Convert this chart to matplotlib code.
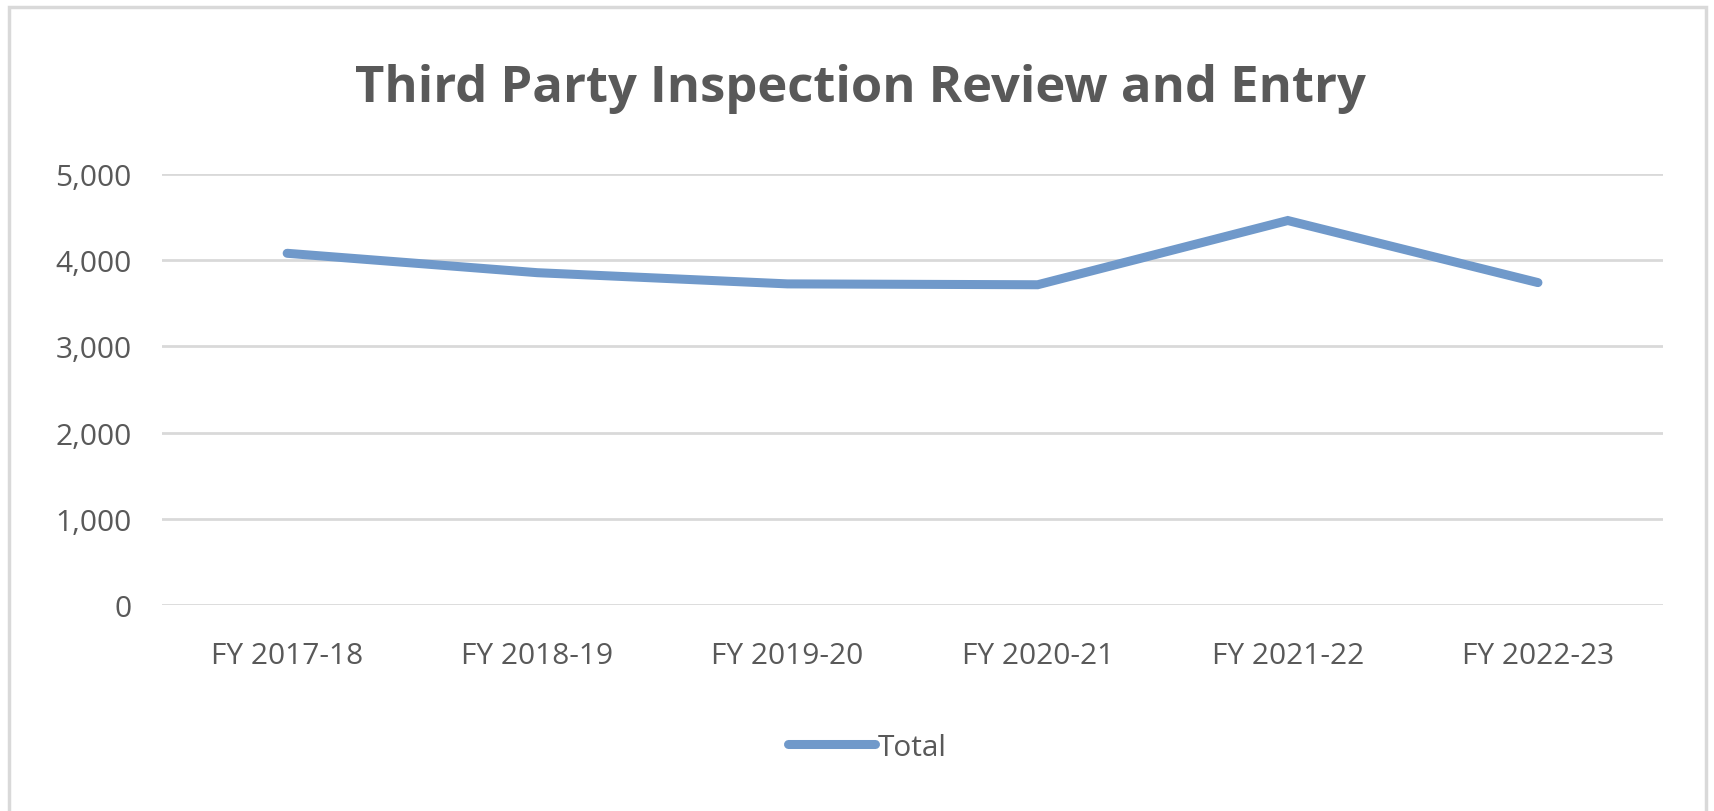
#!/usr/bin/env python3
import matplotlib
matplotlib.use("Agg")
import matplotlib.pyplot as plt
from matplotlib.patches import Rectangle
from matplotlib.ticker import FuncFormatter, MultipleLocator

categories = ["FY 2017-18", "FY 2018-19", "FY 2019-20", "FY 2020-21", "FY 2021-22", "FY 2022-23"]
totals = [4080, 3855, 3725, 3715, 4460, 3740]
series_name = "Total"
title = "Third Party Inspection Review and Entry"

LINE_COLOR = "#7099CA"
TEXT_COLOR = "#595959"
GRID_COLOR = "#D9D9D9"

plt.rcParams["font.family"] = ["Open Sans", "DejaVu Sans"]

fig = plt.figure(figsize=(17.15, 8.12), dpi=100)
fig.patch.set_facecolor("white")

# outer chart border
fig.add_artist(Rectangle((0.005, -0.02), 0.99, 1.01, transform=fig.transFigure,
                         fill=False, edgecolor="#D9D9D9", linewidth=2.5))

ax = fig.add_axes([0.0945, 0.2537, 0.8752, 0.5308])
x = list(range(len(categories)))
ax.plot(x, totals, color=LINE_COLOR, lw=6.5, solid_capstyle="round",
        solid_joinstyle="miter", label=series_name)

ax.set_xlim(-0.5, len(categories) - 0.5)
ax.set_ylim(0, 5000)
ax.yaxis.set_major_locator(MultipleLocator(1000))
ax.yaxis.set_major_formatter(FuncFormatter(lambda v, _: f"{int(v):,}"))
ax.set_xticks(x)
ax.set_xticklabels(categories)

for s in ax.spines.values():
    s.set_visible(False)
ax.grid(axis="y", color=GRID_COLOR, lw=2.0)
ax.set_axisbelow(True)
ax.tick_params(axis="both", length=0, labelsize=21.5, colors=TEXT_COLOR)
ax.tick_params(axis="y", pad=22)
ax.tick_params(axis="x", pad=26)

fig.text(0.502, 0.89, title, ha="center", va="center", fontsize=36.5,
         fontweight="bold", color=TEXT_COLOR)

leg = ax.legend(loc="center", bbox_to_anchor=(0.47, -0.33), frameon=False,
                fontsize=21.5, handlelength=2.9, handletextpad=0.1)
for t in leg.get_texts():
    t.set_color(TEXT_COLOR)

fig.savefig("out.png", dpi=100, facecolor="white")
